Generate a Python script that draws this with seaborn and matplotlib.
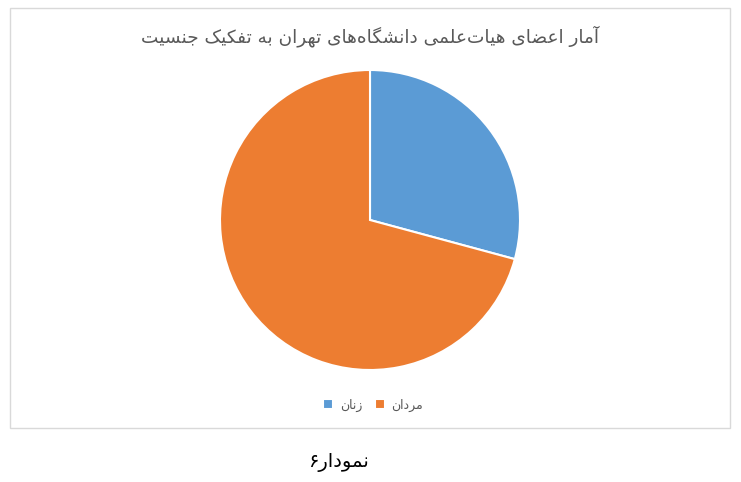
import matplotlib
matplotlib.use("Agg")
import matplotlib.pyplot as plt
import seaborn as sns

# data
labels = ["زنان", "مردان"]
shares = [29.2, 70.8]
title = "آمار اعضای هیات\u200cعلمی دانشگاه\u200cهای تهران به تفکیک جنسیت"
caption = "نمودار۶"

# matplotlib does no Arabic shaping, so map letters to presentation forms
FORMS = {
    'ا': ('\uFE8D', '\uFE8E', None, None),
    'آ': ('\uFE81', '\uFE82', None, None),
    'د': ('\uFEA9', '\uFEAA', None, None),
    'ر': ('\uFEAD', '\uFEAE', None, None),
    'ز': ('\uFEAF', '\uFEB0', None, None),
    'و': ('\uFEED', '\uFEEE', None, None),
    'ب': ('\uFE8F', '\uFE90', '\uFE91', '\uFE92'),
    'ت': ('\uFE95', '\uFE96', '\uFE97', '\uFE98'),
    'ج': ('\uFE9D', '\uFE9E', '\uFE9F', '\uFEA0'),
    'س': ('\uFEB1', '\uFEB2', '\uFEB3', '\uFEB4'),
    'ش': ('\uFEB5', '\uFEB6', '\uFEB7', '\uFEB8'),
    'ض': ('\uFEBD', '\uFEBE', '\uFEBF', '\uFEC0'),
    'ع': ('\uFEC9', '\uFECA', '\uFECB', '\uFECC'),
    'ف': ('\uFED1', '\uFED2', '\uFED3', '\uFED4'),
    'ل': ('\uFEDD', '\uFEDE', '\uFEDF', '\uFEE0'),
    'م': ('\uFEE1', '\uFEE2', '\uFEE3', '\uFEE4'),
    'ن': ('\uFEE5', '\uFEE6', '\uFEE7', '\uFEE8'),
    'ه': ('\uFEE9', '\uFEEA', '\uFEEB', '\uFEEC'),
    'ک': ('\uFB8E', '\uFB8F', '\uFB90', '\uFB91'),
    'گ': ('\uFB92', '\uFB93', '\uFB94', '\uFB95'),
    'ی': ('\uFBFC', '\uFBFD', '\uFBFE', '\uFBFF'),
}


def fa(text):
    out = []
    for i, c in enumerate(text):
        if c not in FORMS:
            out.append(c)
            continue
        iso, fin, ini, med = FORMS[c]
        prev = text[i - 1] if i > 0 else None
        nxt = text[i + 1] if i + 1 < len(text) else None
        jp = prev in FORMS and FORMS[prev][2] is not None
        jn = ini is not None and nxt in FORMS
        if jp and jn:
            out.append(med)
        elif jp:
            out.append(fin)
        elif jn:
            out.append(ini)
        else:
            out.append(iso)
    out = [c for c in out if c != '\u200c']
    return ''.join(reversed(out))


sns.set_theme(style="white")
plt.rcParams['font.family'] = ['DejaVu Sans']
colors = ["#5B9BD5", "#ED7D31"]

fig = plt.figure(figsize=(7.41, 4.82), dpi=100)

# chart area border
fig.patches.append(plt.Rectangle((10 / 741, 54 / 482), 720 / 741, 420 / 482,
                                 transform=fig.transFigure, fill=False,
                                 edgecolor="#d9d9d9", linewidth=1))

ax = fig.add_axes([220 / 741, 112 / 482, 300 / 741, 300 / 482])
wedges, _ = ax.pie(shares, colors=colors, startangle=90, counterclock=False,
                   wedgeprops=dict(edgecolor="white", linewidth=1.5))
ax.set_xlim(-1.0, 1.0)
ax.set_ylim(-1.0, 1.0)
ax.set_aspect("equal")
ax.axis("off")

fig.text(370 / 741, 1 - 36 / 482, fa(title), ha="center", va="center",
         fontsize=13.3, color="#595959")

fig.legend(wedges, [fa(l) for l in labels], loc="center",
           bbox_to_anchor=(373 / 741, 1 - 405 / 482), ncol=2, frameon=False,
           fontsize=9, handlelength=0.8, handleheight=0.8, handletextpad=0.5,
           columnspacing=1.0, labelcolor="#595959")

fig.text(339 / 741, 1 - 462 / 482, fa(caption), ha="center", va="center",
         fontsize=14, color="black")

fig.savefig("out.png", dpi=100, facecolor="white")
